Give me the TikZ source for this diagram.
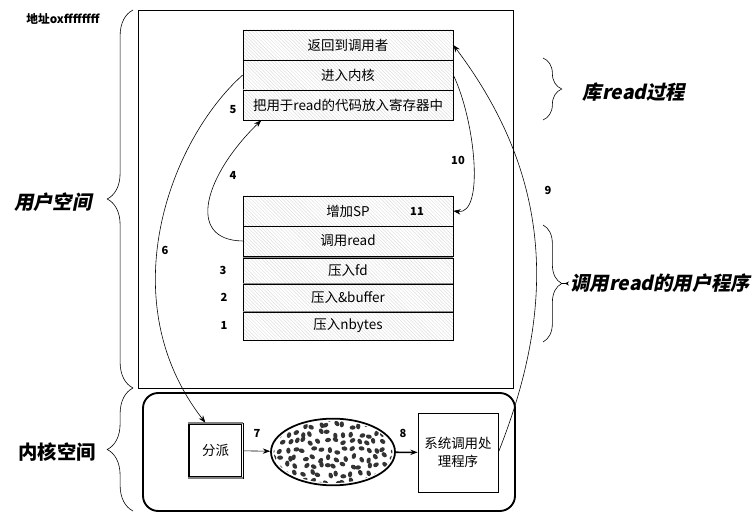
\documentclass[tikz,border=0pt]{standalone}
\usepackage{fontspec}
\setmainfont{Noto Sans CJK SC}
\newfontfamily\cjkslant{Noto Sans CJK SC}[FakeSlant=0.2]
\usetikzlibrary{arrows.meta, shapes.geometric, patterns, decorations.pathreplacing}

\begin{document}
\begin{tikzpicture}[
  x=0.03cm, y=-0.03cm, >={Stealth[length=2.2mm, width=1.6mm]}, line width=0.5pt,
  celda/.style={draw, pattern=north west lines, pattern color=black!13,
                minimum width=6.3cm, inner sep=0pt, font=\fontsize{11.5}{13}\selectfont},
  caja/.style={draw, align=center, inner sep=0pt, font=\fontsize{11.5}{15}\selectfont},
  num/.style={font=\fontsize{9.5}{11}\selectfont\bfseries},
  rotulo/.style={font=\fontsize{16.5}{19}\selectfont\bfseries},
  inclinado/.style={font=\fontsize{16.5}{19}\selectfont\cjkslant\bfseries},
  llave/.style={decorate, decoration={brace, amplitude=#1}}]

  \useasboundingbox (0,0) rectangle (754,514);

  \draw (138,10) rectangle (513,388);
  \draw[line width=1.6pt, rounded corners=13pt] (143,393) rectangle (515,511);

  \node[celda, minimum height=0.9cm] (ret) at (348,45) {返回到调用者};
  \node[celda, minimum height=0.9cm] (kin) at (348,75) {进入内核};
  \node[celda, minimum height=0.9cm] (put) at (348,105) {把用于read的代码放入寄存器中};

  \node[celda, minimum height=0.9cm] (sp) at (348,211) {增加SP};
  \node[celda, minimum height=0.9cm] (call) at (348,241) {调用read};
  \node[celda, minimum height=0.78cm] (pfd) at (348,271) {压入fd};
  \node[celda, minimum height=0.84cm] (pbuf) at (348,298) {压入\&buffer};
  \node[celda, minimum height=0.84cm] (pnb) at (348,326) {压入nbytes};
  \foreach \n in {pfd,pbuf,pnb}
    \draw[black!45, line width=1.2pt] (\n.north west) -- (\n.north east);

  \node[caja, minimum size=1.65cm] (fp) at (215.5,450.5) {分派};
  \draw ([shift={(1.6pt,-1.6pt)}]fp.north west) rectangle ([shift={(-1.6pt,1.6pt)}]fp.south east);
  \draw[black!50, line width=2pt] (fp.north west) -- (fp.north east);
  \draw[black!50, line width=2pt] (fp.south west) -- (fp.south east);
  \node[caja, minimum width=2.4cm, minimum height=2.37cm] (sys) at (458,452.5) {系统调用处\\理程序};

  \node[ellipse, draw, line width=1.5pt, minimum width=3.72cm, minimum height=2cm] (tab) at (333,452) {};
  \begin{scope}
    \clip (333,452) ellipse [x radius=1.78cm, y radius=0.93cm];
    \pgfmathsetseed{11}
    \foreach \gx in {272,280,...,396}
      \foreach \gy in {418,426,...,490}
        \fill[black!80, rotate around={rand*90:(\gx,\gy)}]
          (\gx+2.5*rand,\gy+2.5*rand) ellipse [x radius=0.09cm, y radius=0.065cm];
  \end{scope}

  \draw[->] (fp) -- (tab);
  \draw[->, line width=1.3pt] (tab) -- (sys);
  \draw[->] (kin.west) .. controls (170,140) and (110,300) .. (fp.110);
  \draw[->] (call.west) .. controls (185,240) and (205,175) .. (put.190);
  \draw[->] (kin.east) .. controls (475,120) and (485,215) .. (sp.east);
  \draw[->] (sys.east) .. controls (555,310) and (555,180) .. (ret.east);

  \node[num] (n1) at (224,325) {1};
  \node[num] (n2) at (224,297) {2};
  \node[num] (n3) at (223,270) {3};
  \node[num] (n4) at (233,175) {4};
  \node[num] (n5) at (233,110) {5};
  \node[num] (n6) at (165,250) {6};
  \node[num] (n7) at (257,433) {7};
  \node[num] (n8) at (403,433) {8};
  \node[num] (n9) at (548,190) {9};
  \node[num] (n10) at (458,160) {10};
  \node[num] (n11) at (417,211) {11};

  \node[font=\fontsize{10}{12}\selectfont\bfseries] (addr) at (63,19) {地址oxffffffff};

  \draw[llave=22pt] (133,388) -- (133,10);
  \draw[llave=22pt] (133,511) -- (133,388);
  \node[inclinado] (user) at (53,202) {用户空间};
  \node[rotulo] (kern) at (57,452) {内核空间};

  \draw[llave=16pt] (543,58) -- (543,120);
  \draw[llave=16pt] (543,225) -- (543,342);
  \coordinate (tip2) at (562,283.5);
  \node[inclinado] (lib) at (634,92) {库read过程};
  \node[inclinado, anchor=west, inner sep=1pt] (prog) at (569,283.5) {调用read的用户程序};
  \draw[-{Stealth[length=1.3mm, width=1.2mm, reversed]}] (tip2) -- (prog.west);
\end{tikzpicture}
\end{document}
